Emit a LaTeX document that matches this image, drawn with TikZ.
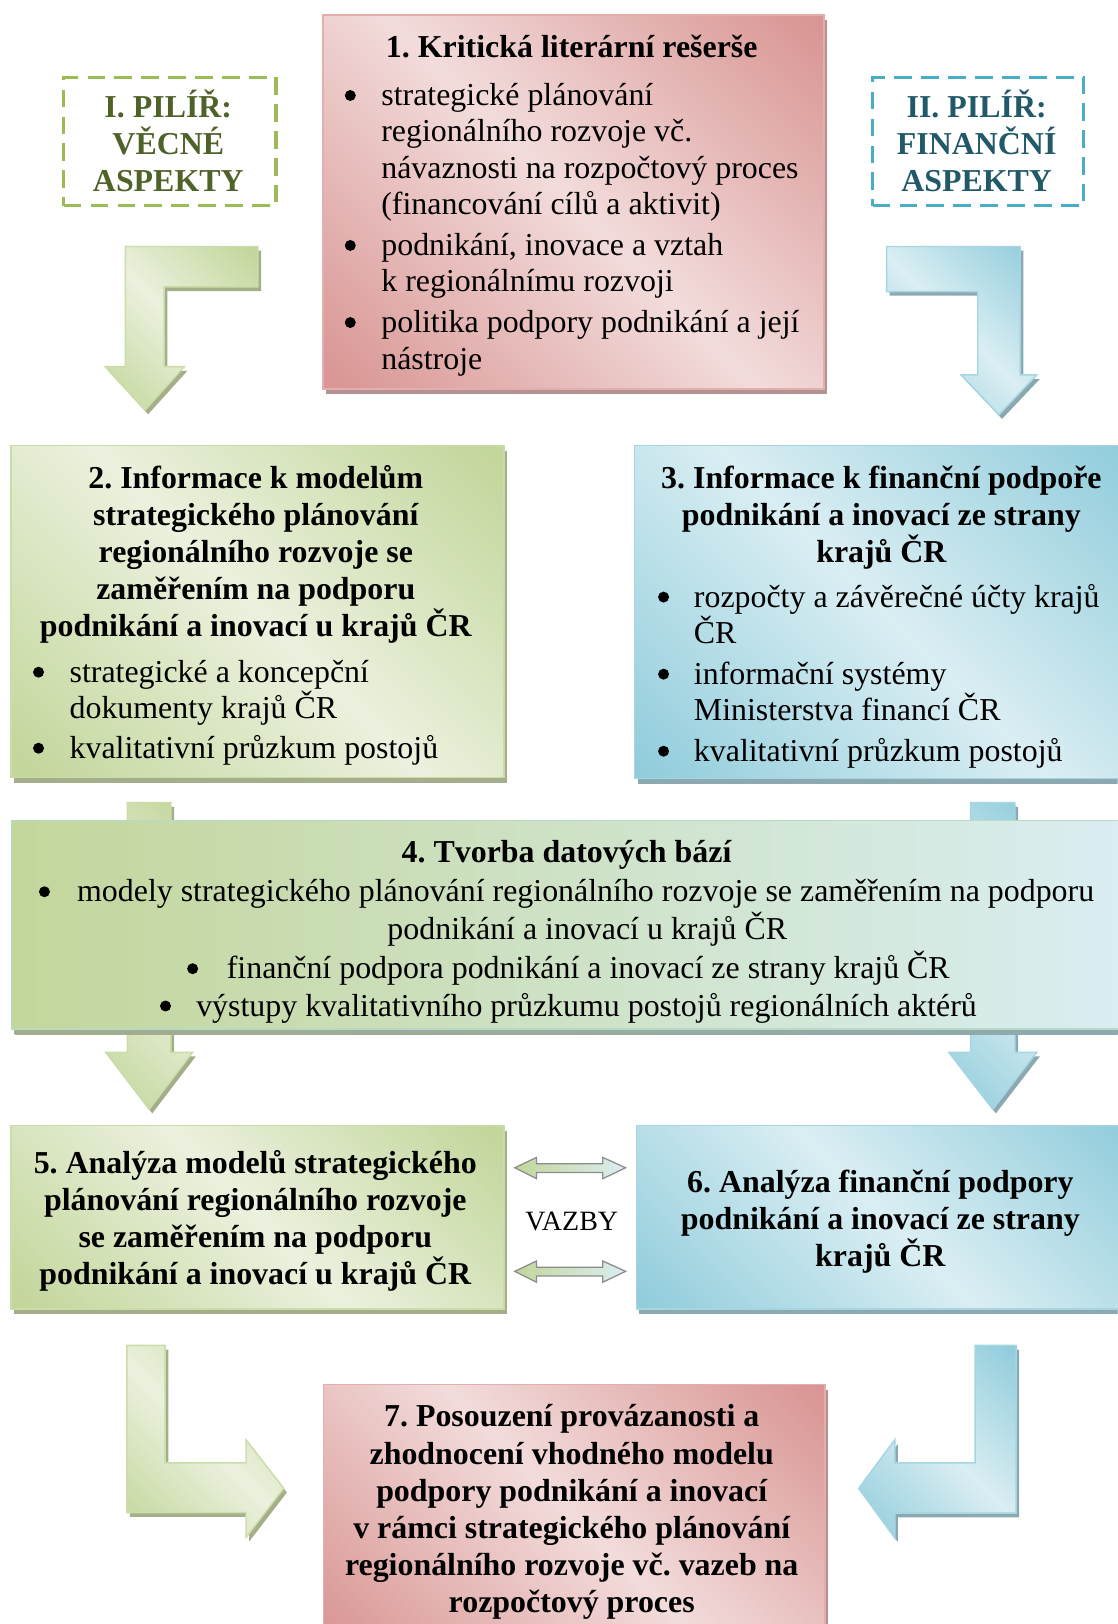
\documentclass[tikz,border=0pt]{standalone}
\usepackage{fontspec}
\setmainfont{Liberation Serif}
\usetikzlibrary{shadows}
\definecolor{pinkL}{HTML}{F2DCDB}
\definecolor{pinkD}{HTML}{D99694}
\definecolor{pinkB}{HTML}{E3AFAE}
\definecolor{pinkS}{HTML}{B49292}
\definecolor{greenL}{HTML}{EBF1DE}
\definecolor{greenD}{HTML}{C3D69B}
\definecolor{greenB}{HTML}{CBDCA8}
\definecolor{greenS}{HTML}{A5AE8A}
\definecolor{blueL}{HTML}{DAEEF3}
\definecolor{blueD}{HTML}{92CDDC}
\definecolor{blueB}{HTML}{A5D6E2}
\definecolor{blueS}{HTML}{8CA9B2}
\definecolor{gtext}{HTML}{4F6228}
\definecolor{btext}{HTML}{215968}
\definecolor{pgreen}{HTML}{9BBB59}
\definecolor{pblue}{HTML}{4BACC6}
\definecolor{vzgray}{HTML}{8C8C8C}
\pgfdeclarehorizontalshading{pinkband}{100bp}{color(0bp)=(pinkD); color(16bp)=(pinkD); color(50bp)=(pinkL); color(84bp)=(pinkD); color(100bp)=(pinkD)}
\pgfdeclarehorizontalshading{greenband}{100bp}{color(0bp)=(greenD); color(16bp)=(greenD); color(50bp)=(greenL); color(84bp)=(greenD); color(100bp)=(greenD)}
\pgfdeclarehorizontalshading{blueband}{100bp}{color(0bp)=(blueD); color(16bp)=(blueD); color(50bp)=(blueL); color(84bp)=(blueD); color(100bp)=(blueD)}
\newcommand{\fl}{\rule{0pt}{30pt}}
\newcommand{\bdot}{\tikz[baseline=0pt]{\fill[black] (0pt,9.7pt) circle[radius=5.3pt];}}
\newcommand{\bul}[1][24.7pt]{\llap{\bdot\hspace{#1}}}
\tikzset{
  txt/.style={font=\fontsize{30.8}{35.2}\selectfont, inner sep=0pt},
  btxt/.style={font=\fontsize{30.8}{35.8}\selectfont\bfseries, inner sep=0pt},
  boxbase/.style={rectangle, anchor=north west, inner sep=0pt, line width=1.5pt, shading angle=45},
  pinkbox/.style={boxbase, draw=pinkB, shading=pinkband,
     general shadow={fill=pinkS, shadow xshift=3pt, shadow yshift=-5pt}},
  greenbox/.style={boxbase, draw=greenB, shading=greenband,
     general shadow={fill=greenS, shadow xshift=3pt, shadow yshift=-5pt}},
  bluebox/.style={boxbase, draw=blueB, shading=blueband,
     general shadow={fill=blueS, shadow xshift=3pt, shadow yshift=-5pt}},
  gbluebox/.style={rectangle, anchor=north west, inner sep=0pt, line width=1.5pt,
     draw=greenB!50!blueB, left color=greenD, right color=blueL,
     general shadow={left color=greenS, right color=blueS, shadow xshift=3pt, shadow yshift=-5pt}},
  garrow/.style={draw=greenB, line width=1.4pt, shading=greenband, shading angle=45,
     general shadow={fill=greenS, shadow xshift=3pt, shadow yshift=-4pt}},
  barrow/.style={draw=blueB, line width=1.4pt, shading=blueband, shading angle=45,
     general shadow={fill=blueS, shadow xshift=3pt, shadow yshift=-4pt}},
  vzarrow/.style={draw=vzgray, line width=1.2pt, left color=greenD, right color=blueL},
  pillar/.style={rectangle, anchor=north west, inner sep=0pt, line width=3pt, dash pattern=on 17pt off 9pt},
}
\begin{document}
\frenchspacing
\begin{tikzpicture}[x=1pt,y=-1pt]
\useasboundingbox (0,0) rectangle (1079,1568);
\clip (0,0) rectangle (1079,1568);

% ---------- block arrows ----------
\path[garrow] (121,238) -- (249,238) -- (249,277) -- (158.5,277) -- (158.5,354) -- (178,354) -- (140,396) -- (101.5,354) -- (121,354) -- cycle;
\path[barrow] (856,238) -- (985,238) -- (985,362) -- (1001,362) -- (964.5,400.5) -- (928,362) -- (944,362) -- (944,281.5) -- (856,281.5) -- cycle;
\path[garrow] (123,775) -- (165,775) -- (165,1016) -- (186,1016) -- (144,1071) -- (102,1016) -- (123,1016) -- cycle;
\path[barrow] (937,775) -- (980,775) -- (980,1016) -- (1001,1016) -- (958.5,1071) -- (916,1016) -- (937,1016) -- cycle;
\path[garrow] (122.5,1299) -- (159.5,1299) -- (159.5,1412.5) -- (237.5,1412.5) -- (237.5,1390) -- (274,1437) -- (237.5,1484.5) -- (237.5,1460.5) -- (122.5,1460.5) -- cycle;
\path[barrow] (941.5,1299) -- (981,1299) -- (981,1461) -- (864,1461) -- (864,1485) -- (829,1437) -- (864,1390) -- (864,1412.5) -- (941.5,1412.5) -- cycle;

% ---------- pillars ----------
\node[pillar, draw=pgreen, minimum width=205pt, minimum height=124pt] (p1) at (60,73) {};
\node[pillar, draw=pblue, minimum width=204pt, minimum height=124pt] (p2) at (841,73) {};
\node[btxt, text=gtext, align=center, anchor=north] (p1t) at (162.5,83) {\fl I. PILÍŘ:\\ VĚCNÉ\\ ASPEKTY};
\node[btxt, text=btext, align=center, anchor=north] (p2t) at (943,83) {\fl II. PILÍŘ:\\ FINANČNÍ\\ ASPEKTY};

% ---------- boxes ----------
\node[pinkbox, minimum width=484pt, minimum height=361pt] (box1) at (311,14) {};
\node[greenbox, minimum width=476pt, minimum height=320.5pt] (box2) at (9.7,429.5) {};
\node[bluebox, minimum width=483pt, minimum height=321.5pt] (box3) at (612,429.5) {};
\node[gbluebox, minimum width=1085pt, minimum height=201.5pt] (box4) at (10.3,791.5) {};
\node[greenbox, minimum width=476pt, minimum height=177pt] (box5) at (9.7,1086) {};
\node[bluebox, minimum width=482pt, minimum height=177pt] (box6) at (613.6,1086) {};
\node[pinkbox, minimum width=484.5pt, minimum height=254pt] (box7) at (311.5,1336) {};

% ---------- VAZBY ----------
\path[vzarrow] (497,1127.5) -- (518,1117.5) -- (518,1123.5) -- (582,1123.5) -- (582,1117.5) -- (604,1127.5) -- (582,1138) -- (582,1132) -- (518,1132) -- (518,1138) -- cycle;
\path[vzarrow] (497,1227.5) -- (518,1217.5) -- (518,1223.5) -- (582,1223.5) -- (582,1217.5) -- (604,1227.5) -- (582,1238) -- (582,1232) -- (518,1232) -- (518,1238) -- cycle;
\node[inner sep=0pt, anchor=base, font=\fontsize{27}{30}\selectfont] (vz) at (552,1188) {VAZBY};

% ---------- texts ----------
\node[btxt, anchor=north, align=center] (h1) at (552,25.7) {\fl 1. Kritická literární rešerše};
\node[txt, anchor=north west, align=left] (i1) at (368,71.7) {\fl\bul strategické plánování\\ regionálního rozvoje vč.\\ návaznosti na rozpočtový proces\\ (financování cílů a aktivit)\\[4pt] \bul podnikání, inovace a vztah\\ k regionálnímu rozvoji\\[4pt] \bul politika podpory podnikání a její\\ nástroje};

\node[btxt, anchor=north, align=center] (h2) at (247,441) {\fl 2. Informace k modelům\\ strategického plánování\\ regionálního rozvoje se\\ zaměřením na podporu\\ podnikání a inovací u krajů ČR};
\node[txt, anchor=north west, align=left] (i2) at (67,628.5) {\fl\bul strategické a koncepční\\ dokumenty krajů ČR\\[3pt] \bul kvalitativní průzkum postojů};

\node[btxt, anchor=north, align=center] (h3) at (851,441) {\fl 3. Informace k finanční podpoře\\ podnikání a inovací ze strany\\ krajů ČR};
\node[txt, anchor=north west, align=left] (i3) at (669.8,556) {\fl\bul[24pt]rozpočty a závěrečné účty krajů\\ ČR\\[4pt] \bul[24pt]informační systémy\\ Ministerstva financí ČR\\[4pt] \bul[24pt]kvalitativní průzkum postojů};

\node[btxt, anchor=base] (h4) at (547,833) {4. Tvorba datových bází};
\node[txt, anchor=base west] (l4a) at (74.3,870.7) {\bul[26.3pt]modely strategického plánování regionálního rozvoje se zaměřením na podporu};
\node[txt, anchor=base] (l4b) at (567,907) {podnikání a inovací u krajů ČR};
\node[txt, anchor=base west] (l4c) at (218.8,945) {\bul[27.7pt]finanční podpora podnikání a inovací ze strany krajů ČR};
\node[txt, anchor=base west] (l4d) at (189.3,981) {\bul[24.4pt]výstupy kvalitativního průzkumu postojů regionálních aktérů};

\node[btxt, anchor=north, align=center] (h5) at (246.5,1103) {\fl 5. Analýza modelů strategického\\ plánování regionálního rozvoje\\ se zaměřením na podporu\\ podnikání a inovací u krajů ČR};
\node[btxt, anchor=north, align=center] (h6) at (850,1121) {\fl 6. Analýza finanční podpory\\ podnikání a inovací ze strany\\ krajů ČR};
\node[btxt, anchor=north, align=center] (h7) at (552,1347.5) {\fl 7. Posouzení provázanosti a\\ zhodnocení vhodného modelu\\ podpory podnikání a inovací\\ v rámci strategického plánování\\ regionálního rozvoje vč. vazeb na\\ rozpočtový proces};
\end{tikzpicture}
\end{document}
